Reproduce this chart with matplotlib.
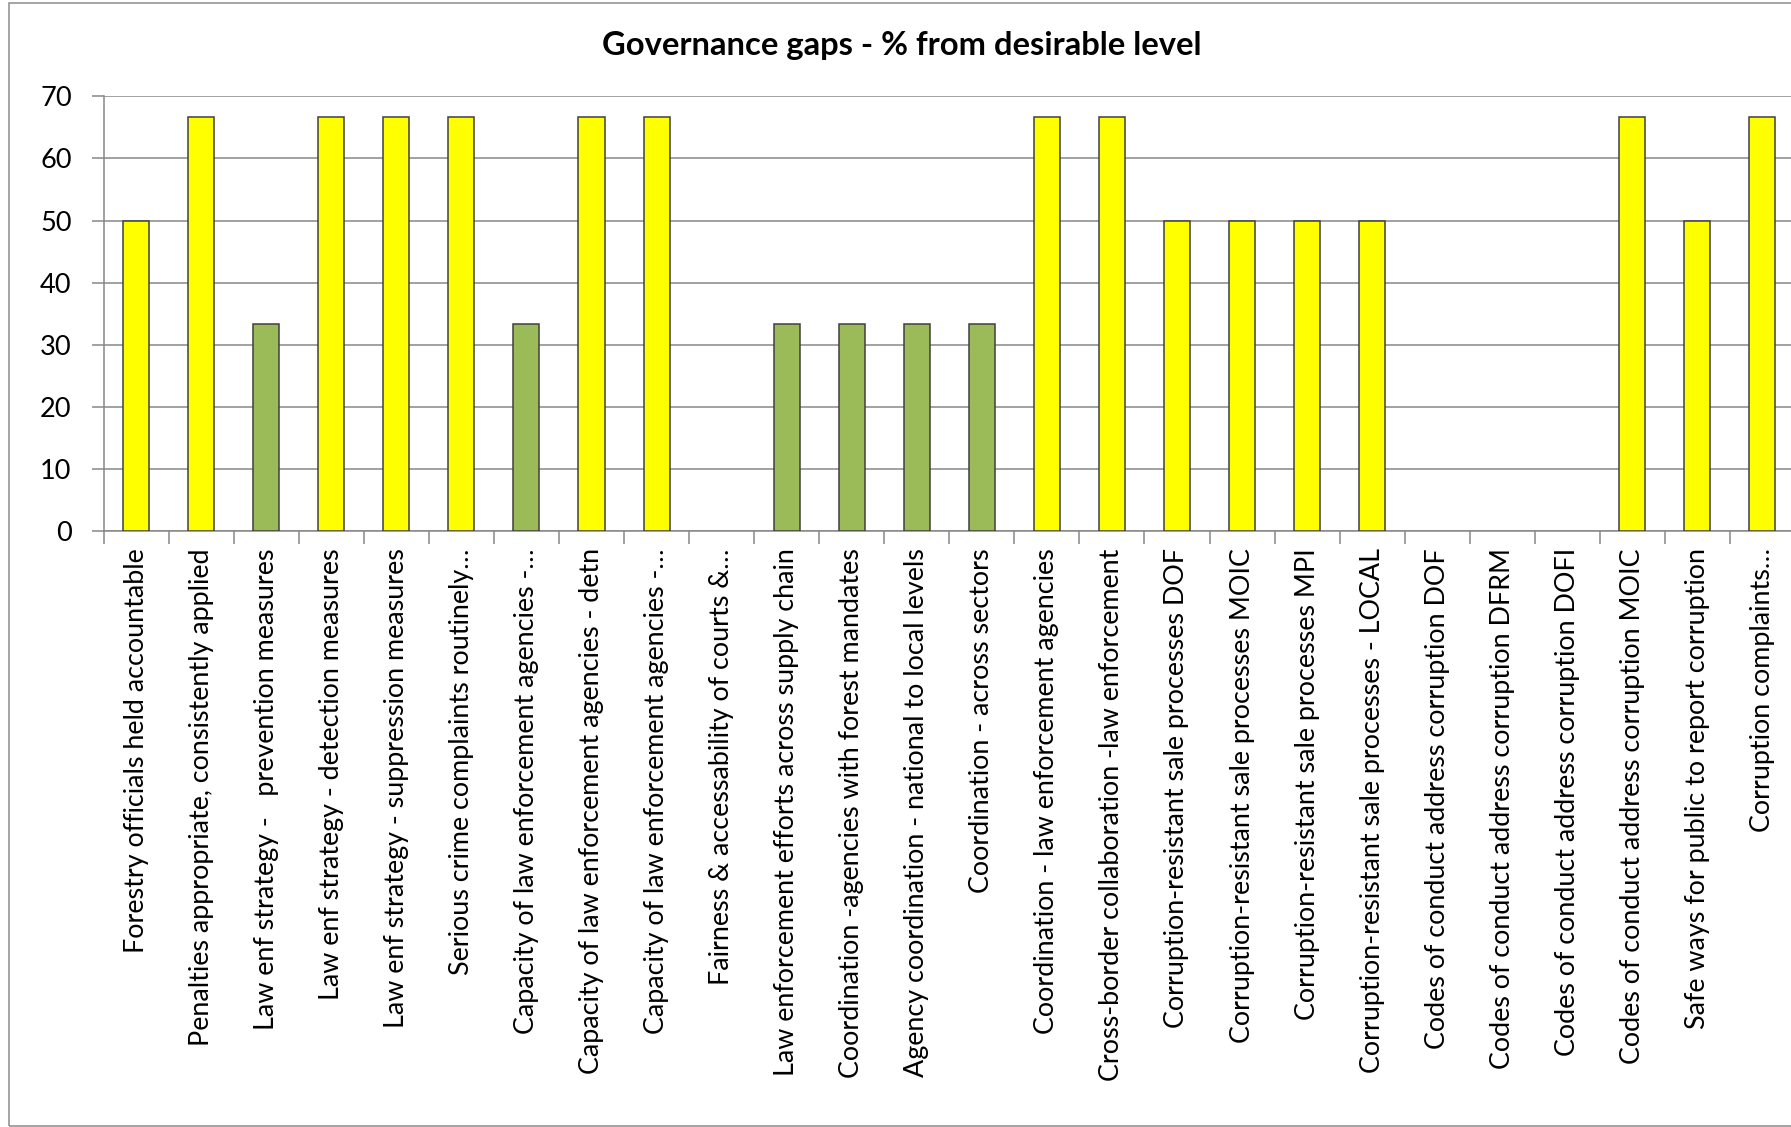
import matplotlib
matplotlib.use("Agg")
import matplotlib.pyplot as plt
from matplotlib.patches import Rectangle
from matplotlib.ticker import FixedLocator

plt.rcParams["font.family"] = ["Lato", "DejaVu Sans"]

categories = [
    "Forestry officials held accountable",
    "Penalties appropriate, consistently applied",
    "Law enf strategy -   prevention measures",
    "Law enf strategy - detection measures",
    "Law enf strategy - suppression measures",
    "Serious crime complaints routinely\u2026",
    "Capacity of law enforcement agencies -\u2026",
    "Capacity of law enforcement agencies - detn",
    "Capacity of law enforcement agencies -\u2026",
    "Fairness & accessability of courts &\u2026",
    "Law enforcement efforts across supply chain",
    "Coordination -agencies with forest mandates",
    "Agency coordination - national to local levels",
    "Coordination - across sectors",
    "Coordination - law enforcement agencies",
    "Cross-border collaboration -law enforcement",
    "Corruption-resistant sale processes DOF",
    "Corruption-resistant sale processes MOIC",
    "Corruption-resistant sale processes MPI",
    "Corruption-resistant sale processes - LOCAL",
    "Codes of conduct address corruption DOF",
    "Codes of conduct address corruption DFRM",
    "Codes of conduct address corruption DOFI",
    "Codes of conduct address corruption MOIC",
    "Safe ways for public to report corruption",
    "Corruption complaints\u2026",
]
gap_pct = [50, 66.7, 33.3, 66.7, 66.7, 66.7, 33.3, 66.7, 66.7, 0,
           33.3, 33.3, 33.3, 33.3, 66.7, 66.7, 50, 50, 50, 50,
           0, 0, 0, 66.7, 50, 66.7]
# yellow = large gap, green = moderate gap
bar_colors = ["#FFFF00" if v > 40 else "#9BBB59" for v in gap_pct]

W, H = 1791, 1127
fig = plt.figure(figsize=(W / 100, H / 100), dpi=100)

# chart frame
fig.patches.append(Rectangle((8.5 / W, 1.5 / H), 1.2, (1124 - 1.5) / H,
                             transform=fig.transFigure, fill=False,
                             edgecolor="#8c8c8c", lw=1.1))

x0, x1 = 103.6, 1795.0
y_top, y_bot = 96.4, 530.8
ax = fig.add_axes([x0 / W, 1 - y_bot / H, (x1 - x0) / W, (y_bot - y_top) / H])

xs = list(range(len(categories)))
# zero-height bars leave no mark
shown = [i for i in xs if gap_pct[i] > 0]
ax.bar(shown, [gap_pct[i] for i in shown], width=0.4,
       color=[bar_colors[i] for i in shown], edgecolor="#404040",
       linewidth=1.1, zorder=3)

ax.set_xlim(-0.5, len(categories) - 0.5)
ax.set_ylim(0, 70)
ax.set_yticks(range(0, 71, 10))
ax.yaxis.grid(True, color="#878787", lw=1.1, zorder=0)
ax.set_axisbelow(True)

ax.set_xticks(xs)
ax.set_xticklabels(categories, rotation=90, fontsize=19.4, va="top", ha="center")
ax.xaxis.set_minor_locator(FixedLocator([i - 0.5 for i in range(len(categories) + 1)]))
ax.tick_params(axis="x", which="major", length=0, pad=12.5)
ax.tick_params(axis="x", which="minor", length=9, width=1.1, color="#878787")
ax.tick_params(axis="y", length=9, width=1.1, color="#878787", labelsize=19.5, pad=14)

for side in ["top", "right"]:
    ax.spines[side].set_visible(False)
for side in ["left", "bottom"]:
    ax.spines[side].set_color("#878787")
    ax.spines[side].set_linewidth(1.1)

fig.text(902 / W, 1 - 46 / H, "Governance gaps - % from desirable level",
         ha="center", va="center", fontsize=23.6, fontweight="bold")

fig.savefig("out.png", dpi=100)
